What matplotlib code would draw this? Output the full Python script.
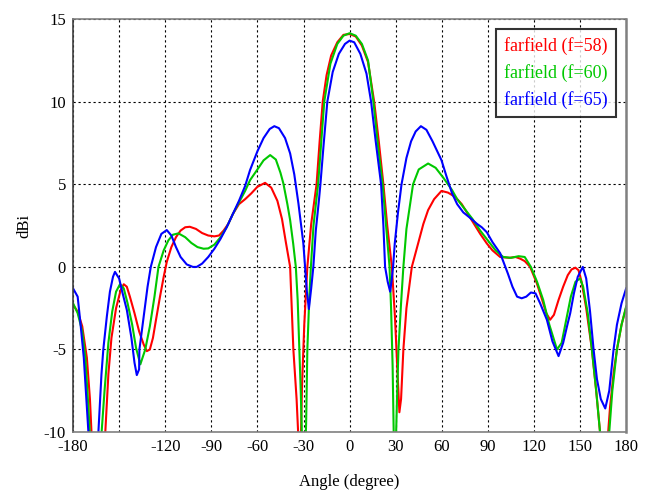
import matplotlib.pyplot as plt

plt.rcParams['font.family'] = ['Liberation Serif', 'DejaVu Serif']
plt.rcParams['axes.unicode_minus'] = False

# farfield cuts (angle in degree, gain in dBi)
ang_58 = [-180, -177, -174, -171, -169, -167, -164, -161, -159, -157, -155, -152, -149, -147, -145,
          -143, -140, -137, -134, -132, -130, -128, -126, -123.4, -121, -119, -116, -113, -110, -107,
          -104, -100, -96, -92, -88, -85, -82, -79, -76, -72, -68, -64, -60, -55, -51, -47, -44,
          -41.5, -38.7, -36.6, -34.5, -33, -32.5, -31.8, -31, -29.5, -27.5, -25, -21.5, -19.5, -17.5,
          -15, -12, -8, -4, 0, 4, 8, 12, 16, 19, 22, 24.5, 27.5, 29.5, 31, 32.4, 33.5, 35, 37, 40.5,
          44.6, 48, 51.1, 55, 59.8, 64, 68.7, 73, 77, 81, 85, 89.3, 93, 98, 104, 108, 111, 114, 117.5,
          121.9, 125, 128, 130.5, 133, 136, 139, 142, 144.5, 147, 149, 151, 154, 157.7, 160.5, 163,
          165.5, 167.5, 169.5, 172, 174, 177, 180]
db_58 = [-2.3, -2.7, -3.6, -5.5, -8.0, -12, -20, -12, -10, -6.5, -4.3, -2.5, -1.4, -1.05, -1.2,
         -1.8, -2.8, -3.9, -4.7, -5.1, -5.0, -4.3, -3.2, -1.8, -0.6, 0.3, 1.2, 1.8, 2.2, 2.4,
         2.43, 2.3, 2.05, 1.9, 1.85, 1.9, 2.2, 2.6, 3.2, 3.8, 4.1, 4.45, 4.85, 5.09, 4.8, 4.0, 2.9,
         1.5, 0.0, -5.0, -8.0, -11, -20, -11, -7.3, -3.5, 0.0, 2.6, 5.0, 7.6, 10.0,
         11.6, 12.8, 13.6, 14.05, 14.1, 13.95, 13.4, 12.4, 10.0, 7.6, 5.0, 2.5, 0.0, -3.0, -6.0, -8.8, -8.0, -5.0, -2.5, 0.0,
         1.42, 2.6, 3.44, 4.1, 4.6, 4.5, 4.24, 3.8, 3.2, 2.6, 2.0, 1.42, 1.0, 0.6, 0.55, 0.6, 0.5, 0.35, 0.0,
         -1.0, -1.9, -2.8, -3.2, -2.9, -2.0, -1.2, -0.5, -0.15, -0.05, -0.2, -0.9, -2.5, -5.0, -7.5, -10,
         -18, -11, -8.5, -6.3, -5.0, -3.5, -2.45]

ang_60 = [-180, -177, -174, -172, -170, -168.5, -165.5, -162.5, -161.4, -159.5, -157, -154.5, -152,
          -149.4, -147, -144.5, -141.5, -139, -136.2, -133, -130, -127, -124.4, -121, -118, -115,
          -111.4, -107, -103, -99, -95, -92, -88, -84, -80, -76, -72, -68, -64.8, -60, -56, -51.7,
          -48, -45, -43.1, -40.5, -38.7, -36.7, -35, -33.8, -32.7, -31.8, -31.1, -30, -28.8, -28.3,
          -27.5, -26.3, -25.2, -23.5, -20.5, -18.5, -16.5, -12.5, -8, -4, 0, 4, 8, 12, 15.5, 18.5,
          21.5, 24, 26, 27, 28, 28.7, 29.3, 30.3, 31, 31.8, 33.5, 35, 37, 41.3, 45, 51.1, 56, 61,
          66.7, 70, 75, 80, 85, 90, 95, 100, 105, 110, 114, 118, 122, 126, 130, 135, 138, 141, 144,
          147, 150, 152, 155, 157.7, 160.5, 163, 166.5, 169, 171, 174, 177, 180]
db_60 = [-2.2, -2.8, -3.9, -5.5, -8.5, -11, -20, -11, -10, -7.5, -4.6, -2.7, -1.5,
         -1.04, -1.3, -2.2, -3.5, -4.9, -5.9, -5.0, -3.6, -1.8, 0.0, 1.0, 1.6, 1.95,
         2.03, 1.8, 1.45, 1.2, 1.1, 1.12, 1.35, 1.8, 2.4, 3.2, 3.9, 4.6, 5.25, 5.9, 6.45, 6.77,
         6.5, 5.7, 5.05, 3.8, 2.83, 1.4, 0.0, -2.0, -5.0, -7.5, -10, -18, -11, -9.5,
         -5.0, -2.0, 0.0, 2.5, 5.0, 7.5, 10.0, 12.3, 13.5, 14.0, 14.15, 14.0, 13.5, 12.5, 10.0, 7.3,
         5.0, 2.2, 0.0, -2.5, -6.0, -10, -18, -10, -7.5, -5.0, -2.2, 0.0, 2.3, 5.0, 5.9, 6.26, 6.0, 5.4,
         4.65, 4.1, 3.5, 2.9, 2.2, 1.6, 1.0, 0.6, 0.55, 0.65, 0.6, 0.0, -0.9, -2.0, -3.5, -5.0, -4.6, -3.2, -1.8,
         -0.9, -0.7, -1.2, -2.8, -5.0, -7.5, -10, -18, -10, -7.5, -5.0, -3.5, -2.4]

ang_65 = [-180, -177, -175.4, -173, -171, -170, -167, -164, -163.5, -161.5, -160.3, -158, -156, -154,
          -152.7, -150, -148, -145, -142, -140, -138.5, -137, -136.8, -134, -131.5, -129.4, -126,
          -122.5, -119, -116, -113, -110, -106, -102, -99.5, -96, -92, -88, -84, -80, -76, -72, -68,
          -64.8, -60, -56, -52, -49, -46, -42, -38.7, -36, -33.3, -30.1, -29, -27.8, -26.5, -25,
          -23.6, -22, -20, -19, -17, -14.5, -11, -7, -3, 0, 3, 7, 11, 14, 17, 20.5, 22, 23.1, 24.8,
          26.4, 27.5, 28.3, 29.4, 31.5, 33.8, 37, 40, 43, 46.4, 50, 54, 59.8, 63, 66.7, 70, 74, 78,
          80.5, 83, 86, 89.3, 93, 98, 103, 106, 109, 112, 115, 118, 121, 124, 128.4, 132, 136, 139,
          141.5, 143.6, 146, 148.5, 151.8, 154, 156.5, 158.8, 161, 163.5, 166.4, 169, 171.8, 174, 177, 180]
db_65 = [-1.3, -1.8, -3.2, -5.5, -8.5, -10, -20, -11, -10, -6.5, -5.0, -3.0, -1.5, -0.6,
         -0.3, -0.7, -1.5, -2.6, -4.3, -5.8, -6.55, -6.2, -5.0, -3.0, -1.2, 0.0, 1.2,
         2.0, 2.23, 1.9, 1.2, 0.6, 0.15, 0.0, 0.0, 0.2, 0.6, 1.1, 1.7, 2.4, 3.2, 4.0, 4.9,
         5.86, 7.0, 7.8, 8.35, 8.52, 8.4, 7.8, 6.87, 5.6, 3.84, 1.42, 0.0, -1.5, -2.55, -1.3,
         0.0, 2.2, 4.0, 5.0, 7.3, 10.0, 11.8, 12.9, 13.5, 13.7, 13.6, 12.9, 11.7, 10.0, 7.6, 5.0, 2.5, 0.0, -0.9,
         -1.5, -0.7, 0.0, 1.42, 3.3, 5.0, 6.6, 7.6, 8.2, 8.52, 8.3, 7.6, 6.46, 5.5, 4.45, 3.8, 3.3, 3.0,
         2.8, 2.6, 2.4, 2.1, 1.5, 0.83, -0.4, -1.2, -1.8, -1.9, -1.8, -1.55, -1.6, -2.2, -3.2, -4.5, -5.4, -4.6,
         -3.6, -2.8, -1.6, -0.6, 0.0, -0.7, -2.7, -5.0, -6.8, -8.0, -8.57, -7.5, -5.0, -3.5, -2.2, -1.3]

series = [
    ("farfield (f=58)", ang_58, db_58, "#ff0000"),
    ("farfield (f=60)", ang_60, db_60, "#00c800"),
    ("farfield (f=65)", ang_65, db_65, "#0000ff"),
]

x_ticks = [-180, -150, -120, -90, -60, -30, 0, 30, 60, 90, 120, 150, 180]
x_labels = ["-180", "", "-120", "-90", "-60", "-30", "0", "30", "60", "90", "120", "150", "180"]
y_ticks = [-10, -5, 0, 5, 10, 15]

fig = plt.figure(figsize=(6.64, 4.91), dpi=100)
ax = fig.add_axes([0.110, 0.120, 0.833, 0.841])

for name, a, d, c in series:
    ax.plot(a, d, color=c, lw=1.5, label=name)

ax.set_xlim(-180, 180)
ax.set_ylim(-10, 15)
ax.set_xticks(x_ticks)
ax.set_xticklabels(x_labels)
ax.set_yticks(y_ticks)
ax.tick_params(labelsize=12, length=0, pad=5)
ax.grid(True, color='black', linestyle=(0, (2, 2.5)), linewidth=0.8)

for s in ax.spines.values():
    s.set_color('#808080')
    s.set_linewidth(1.2)
ax.spines['left'].set_color('#404040')
ax.spines['right'].set_linewidth(1.8)

ax.set_xlabel("Angle (degree)", fontsize=12, labelpad=14)
ax.set_ylabel("dBi", fontsize=12, labelpad=8)

leg = ax.legend(loc='upper right', bbox_to_anchor=(0.982, 0.976), borderaxespad=0,
                handlelength=0, handletextpad=0, fontsize=13, frameon=True, fancybox=False,
                borderpad=0.45, labelspacing=0.5)
leg.get_frame().set_edgecolor('black')
leg.get_frame().set_linewidth(1.5)
for line, text in zip(leg.get_lines(), leg.get_texts()):
    line.set_visible(False)
    text.set_color(line.get_color())

plt.savefig("out.png", dpi=100)
